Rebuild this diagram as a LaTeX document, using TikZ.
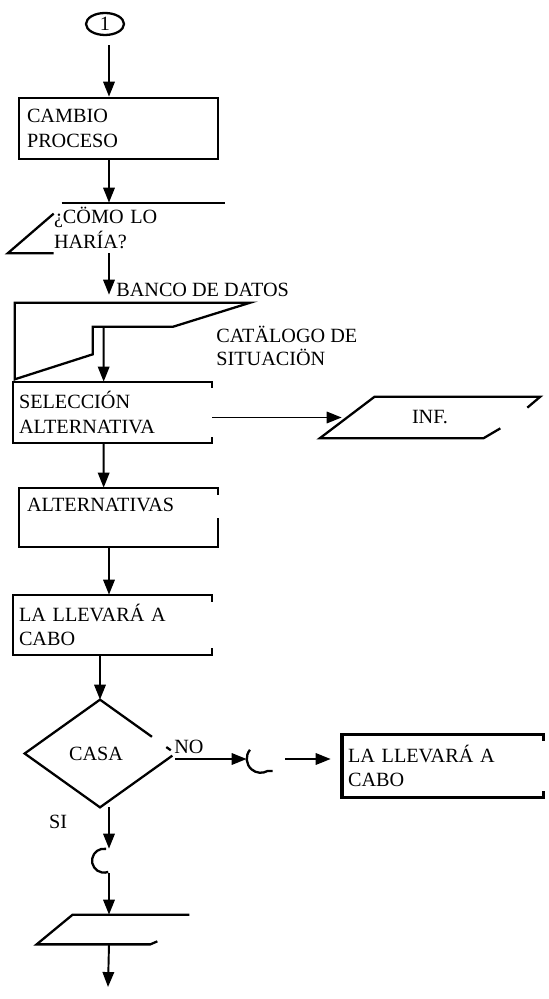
\documentclass[tikz,border=0pt]{standalone}
\usepackage{fontspec}
\setmainfont{Liberation Serif}
\usetikzlibrary{arrows.meta,shapes.geometric,calc}

\begin{document}
\begin{tikzpicture}[x=0.02cm, y=-0.02cm, font=\fontsize{11.5}{14}\selectfont,
    arrowline/.style={-{Triangle[length=8.5pt,width=6.5pt]}, line width=1.1pt},
    outline/.style={line width=1.3pt},
    textbox/.style={inner xsep=0.12cm, inner ysep=0pt, align=left}]
  \useasboundingbox (0,0) rectangle (548,999);
  \coordinate (spine) at (109,0);

  \node[ellipse, draw, line width=1.3pt, minimum width=0.76cm, minimum height=0.44cm, inner sep=0] (uno) at (105,24) {1};
  \node[textbox, draw, line width=1.5pt, inner xsep=0.16cm, text width=3.66cm, minimum width=3.98cm, minimum height=1.22cm] (cambio) at (118.5,128.5) {CAMBIO\\PROCESO};
  \node[textbox, inner xsep=0.92cm, text width=2.5cm, minimum width=4.34cm, minimum height=1cm] (como) at (116.5,228) {¿CÖMO LO\\HARÍA?};
  \node[anchor=west, inner sep=0] (banco) at (116,290) {BANCO DE DATOS};
  \node[minimum width=4.7cm, minimum height=1.52cm, inner sep=0] (store) at (132.5,341) {};
  \node[anchor=west, inner sep=0, align=left, font=\fontsize{11.5}{13}\selectfont] (catalogo) at (216,346) {CATÄLOGO DE\\SITUACIÖN};
  \node[textbox, text width=3.74cm, minimum width=3.98cm, minimum height=1.22cm] (sel) at (112.5,412.5) {SELECCIÓN\\ALTERNATIVA};
  \node[minimum width=4.4cm, minimum height=0.82cm, inner sep=0] (inf) at (430,417.5) {INF.};
  \node[textbox, inner xsep=0.16cm, text width=3.66cm, minimum width=3.98cm, minimum height=1.18cm] (alt) at (118.5,517.5) {ALTERNATIVAS\\~};
  \node[textbox, text width=3.74cm, minimum width=3.98cm, minimum height=1.2cm] (lleva) at (112.5,625) {LA LLEVARÁ A\\CABO};
  \node[diamond, aspect=1.4, inner sep=0, minimum width=3cm, minimum height=2.14cm] (casa) at (100,753.5) {\hspace*{-0.16cm}CASA};
  \node[inner sep=0] (no) at (189,747) {NO};
  \node[circle, minimum size=0.56cm, inner sep=0] (cno) at (261,759) {};
  \node[textbox, text width=3.78cm, minimum width=4.02cm, minimum height=1.24cm] (lleva2) at (442.5,766) {LA LLEVARÁ A\\CABO};
  \node[inner sep=0] (si) at (58,822) {SI};
  \node[circle, minimum size=0.48cm, inner sep=0] (csi) at (104,861) {};
  \node[minimum width=3.04cm, minimum height=0.58cm, inner sep=0] (para) at (113,929.5) {};
  \coordinate (fin) at (108,987);

  % partial outlines of the symbols
  \draw[outline] ($(como.north west)+(54,0)$) -- (como.north east);
  \draw[outline] ($(como.north west)+(46,11)$) -- (como.south west) -- ($(como.south west)+(46,0)$);
  \draw[outline] (store.south west) -- (store.north west) -- (store.north east) -- ($(store.north east)+(-77,24)$) -- ($(store.north west)+(78,24)$) -- ($(store.south west)+(78,-25)$) -- cycle;
  \draw[outline] ($(sel.north east)+(0,6)$) -- (sel.north east) -- (sel.north west) -- (sel.south west) -- (sel.south east) -- ($(sel.south east)+(0,-6)$);
  \draw[outline] ($(inf.north east)+(-13,11)$) -- (inf.north east) -- ($(inf.north west)+(55,0)$) -- (inf.south west) -- ($(inf.south east)+(-57,0)$) -- ($(inf.south east)+(-40,-10)$);
  \draw[outline] ($(alt.north east)+(0,7)$) -- (alt.north east) -- (alt.north west) -- (alt.south west) -- (alt.south east) -- ($(alt.south east)+(0,-29)$);
  \draw[outline] ($(lleva.north east)+(0,7)$) -- (lleva.north east) -- (lleva.north west) -- (lleva.south west) -- (lleva.south east) -- ($(lleva.south east)+(0,-7)$);
  \draw[outline] ($(casa.north)!0.69!(casa.east)$) -- (casa.north) -- (casa.west) -- (casa.south) -- ($(casa.south)!0.96!(casa.east)$);
  \draw[outline] ($(casa.north)!0.88!(casa.east)$) -- ($(casa.north)!0.94!(casa.east)$);
  \draw[outline] (cno.140) arc[start angle=140, end angle=300, radius=0.28cm] -- ++(0.1cm,0);
  \draw[outline, line width=1.5pt] ($(lleva2.north east)+(0,6)$) -- (lleva2.north east) -- (lleva2.north west) -- (lleva2.south west) -- (lleva2.south east) -- ($(lleva2.south east)+(0,-6)$);
  \draw[line width=2.4pt] (lleva2.north west) -- (lleva2.south west);
  \draw[outline] (csi.80) arc[start angle=80, end angle=290, radius=0.24cm];
  \draw[outline] (para.north east) -- ($(para.north west)+(36,0)$) -- (para.south west) -- ($(para.south east)+(-39,0)$) -- ($(para.south east)+(-32,-3)$);

  \path[arrowline]
    (spine |- uno.south) edge[shorten <=0.18cm] (spine |- cambio.north)
    (spine |- cambio.south) edge (spine |- como.north)
    (spine |- como.south) edge[shorten >=0.16cm] (spine |- store.north)
    ($(store.north west)+(89,24)$) edge ($(sel.north west)+(91,0)$)
    (sel.east |- inf.west) edge ($(inf.west)+(22,0)$)
    ($(sel.south west)+(91,0)$) edge ($(alt.north west)+(85,0)$)
    (spine |- alt.south) edge (spine |- lleva.north)
    (lleva.south -| casa.north) edge (casa.north)
    (casa.east |- cno.west) edge (cno.west)
    (cno.east) edge[shorten <=0.2cm, shorten >=0.22cm] (cno.east -| lleva2.west)
    (spine |- casa.south) edge (spine |- csi.north)
    (spine |- csi.south) edge (spine |- para.north)
    (spine |- para.south) edge (fin);
\end{tikzpicture}
\end{document}
